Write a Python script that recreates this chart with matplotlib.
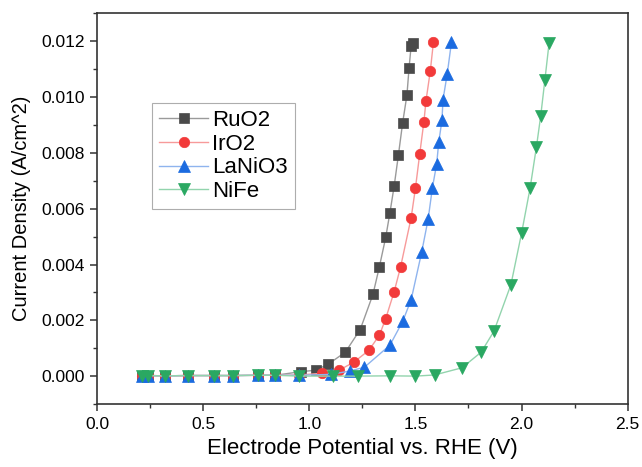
import matplotlib
matplotlib.use("Agg")
import matplotlib.pyplot as plt
from matplotlib.ticker import MultipleLocator

plt.rcParams['font.family'] = ['Liberation Sans', 'DejaVu Sans']

low_x = [0.21, 0.24, 0.32, 0.43, 0.55, 0.64, 0.76, 0.84]
low_y = [0.00002, 0.00002, 0.00001, 0.00002, 0.00002, 0.00002, 0.00003, 0.00003]

ruo2_x = low_x + [0.96, 1.03, 1.09, 1.17, 1.24, 1.30, 1.33, 1.36, 1.38, 1.40, 1.42, 1.44, 1.46, 1.47, 1.48, 1.49]
ruo2_y = low_y + [0.00016, 0.00021, 0.00043, 0.00086, 0.00167, 0.00293, 0.00391, 0.00497, 0.00586,
                  0.00682, 0.00793, 0.00909, 0.01007, 0.01104, 0.01185, 0.01195]

iro2_x = low_x + [0.95, 1.06, 1.14, 1.21, 1.28, 1.33, 1.36, 1.40, 1.43, 1.48, 1.50, 1.52, 1.54, 1.55, 1.57, 1.585]
iro2_y = low_y + [0.00004, 0.00010, 0.00021, 0.00050, 0.00092, 0.00146, 0.00206, 0.00303, 0.00391, 0.00568,
                  0.00673, 0.00795, 0.00912, 0.00988, 0.01093, 0.01198]

lanio3_x = low_x + [0.95, 1.10, 1.19, 1.26, 1.38, 1.44, 1.48, 1.53, 1.56, 1.58, 1.60, 1.61, 1.625, 1.63, 1.65, 1.67]
lanio3_y = low_y + [0.00003, 0.00006, 0.00018, 0.00032, 0.00111, 0.00196, 0.00274, 0.00446, 0.00563,
                    0.00675, 0.00760, 0.00839, 0.00917, 0.00991, 0.01084, 0.01198]

nife_x = low_x + [0.95, 1.11, 1.23, 1.38, 1.50, 1.59, 1.72, 1.81, 1.87, 1.95, 2.00, 2.04, 2.07, 2.09, 2.11, 2.13]
nife_y = low_y + [0.0, 0.0, 0.0, 0.00001, 0.0, 0.00004, 0.00030, 0.00086, 0.00161, 0.00328, 0.00512,
                  0.00673, 0.00821, 0.00931, 0.01062, 0.01196]

fig = plt.figure(figsize=(6.42, 4.67), dpi=100)
ax = fig.add_axes([0.1511, 0.1349, 0.8266, 0.8362])

series = [
    ("RuO2", ruo2_x, ruo2_y, "s", "#4a4a4a", "#9a9a9a", 7),
    ("IrO2", iro2_x, iro2_y, "o", "#f23a3a", "#f79a9a", 7.5),
    ("LaNiO3", lanio3_x, lanio3_y, "^", "#1b6be0", "#8fb4ee", 8),
    ("NiFe", nife_x, nife_y, "v", "#2aa862", "#92d4ad", 8),
]
for lab, xs, ys, m, mc, lc, ms in series:
    ax.plot(xs, ys, color=lc, lw=1.0, marker=m, markersize=ms,
            markerfacecolor=mc, markeredgecolor=mc, markeredgewidth=0.5, label=lab)

ax.set_xlim(0, 2.5)
ax.set_ylim(-0.001, 0.013)
ax.xaxis.set_major_locator(MultipleLocator(0.5))
ax.xaxis.set_minor_locator(MultipleLocator(0.25))
ax.yaxis.set_major_locator(MultipleLocator(0.002))
ax.yaxis.set_minor_locator(MultipleLocator(0.001))
ax.yaxis.set_major_formatter(matplotlib.ticker.FormatStrFormatter('%.3f'))
ax.xaxis.set_major_formatter(matplotlib.ticker.FormatStrFormatter('%.1f'))

for s in ax.spines.values():
    s.set_color("#333333")
    s.set_linewidth(1.2)
ax.tick_params(which='major', direction='out', length=5, width=1.1, color="#333333",
               labelsize=12.5, pad=4)
ax.tick_params(which='minor', direction='out', length=3, width=1.0, color="#333333")

ax.set_xlabel("Electrode Potential vs. RHE (V)", fontsize=16, labelpad=5)
ax.set_ylabel("Current Density (A/cm^2)", fontsize=14.5, labelpad=7)

leg = ax.legend(loc='upper left', bbox_to_anchor=(0.1037, 0.771), borderaxespad=0,
                fontsize=16, frameon=True, fancybox=False, handlelength=2.2,
                labelspacing=0.12, handletextpad=0.2, borderpad=0.32)
leg.get_frame().set_edgecolor("#999999")
leg.get_frame().set_linewidth(0.8)

fig.savefig("out.png", dpi=100)
